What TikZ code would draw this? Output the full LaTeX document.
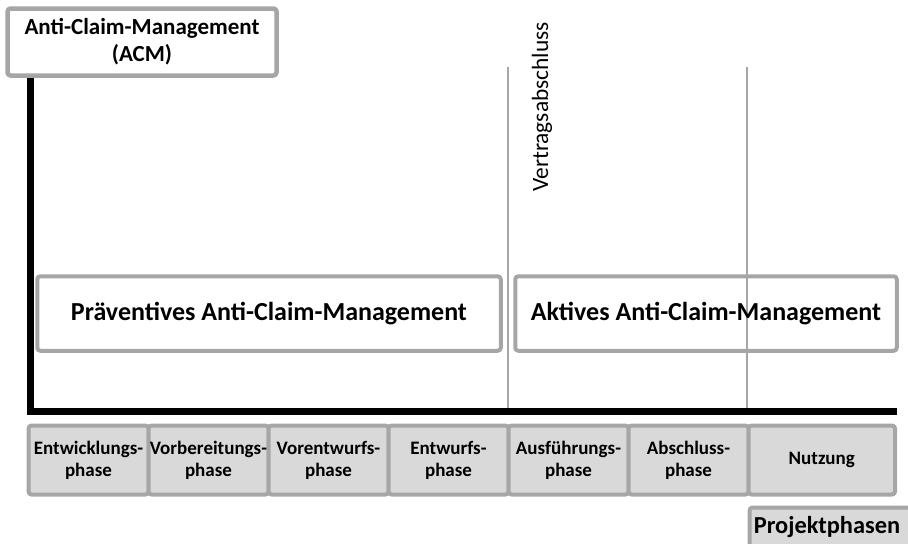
\documentclass[tikz,border=0pt]{standalone}
\usepackage{fontspec}
\setmainfont{Carlito}
\definecolor{grau}{HTML}{A6A6A6}
\definecolor{hellgrau}{HTML}{D9D9D9}

\begin{document}
\begin{tikzpicture}[   % Grundeinstellungen
      x=0.5pt, y=-0.5pt,   % 1 Einheit = 1 Pixel, y nach unten
      line join=round,
      font=\bfseries
    ]
    \tikzstyle{box}=[draw=grau, line width=2pt, rounded corners=1.5pt, align=center, inner sep=0pt];
    \tikzstyle{phase}=[box, fill=hellgrau, minimum width=60pt, minimum height=34.5pt,
                       font=\fontsize{9.5}{11}\selectfont\bfseries];
    \tikzstyle{axis}=[line width=3.5pt, black, line join=miter];
    \tikzstyle{guide}=[draw=grau, line width=0.8pt];
    \useasboundingbox (0,0) rectangle (908,543);
    %
    % Meilensteine
    \draw[guide] (508,67) -- (508,411);
    \draw[guide] (747,67) -- (747,411);
    \node [rotate=90, font=\fontsize{11.7}{14}\selectfont] (vertrag) at (542,107) {Vertragsabschluss};
    %
    % Achsen
    \draw[axis] (30.5,77) |- (897,411.5);
    %
    % Kopf
    \node [box, fill=white, line width=2.25pt, minimum width=134.5pt, minimum height=33.5pt,
           font=\fontsize{11.5}{13.5}\selectfont\bfseries] (acm) at (142,42)
      {Anti-Claim-Management\\(ACM)};
    %
    % ACM-Arten
    \node [box, minimum width=231.75pt, minimum height=37.25pt,
           font=\fontsize{13}{15}\selectfont\bfseries] (prev) at (269,313.5)
      {Präventives Anti-Claim-Management};
    \node [box, minimum width=190.75pt, minimum height=37.25pt,
           font=\fontsize{13}{15}\selectfont\bfseries] (aktiv) at (706,313.5)
      {Aktives Anti-Claim-Management};
    %
    % Projektphasen
    \foreach \i/\t in {1/Entwicklungs-,2/Vorbereitungs-,3/Vorentwurfs-,
                       4/Entwurfs-,5/Ausführungs-,6/Abschluss-} {
      \node [phase] (p\i) at (88.5+120*\i-120,460) {\t\\phase};
    }
    \node [phase, minimum width=73.25pt] (p7) at (821.75,460) {Nutzung};
    %
    % Legende
    \draw[box, fill=hellgrau] (749.5,507.5) rectangle (940,560);
    \node [font=\fontsize{12.2}{14}\selectfont\bfseries] (proj) at (827,527) {Projektphasen};
  \end{tikzpicture}
\end{document}
